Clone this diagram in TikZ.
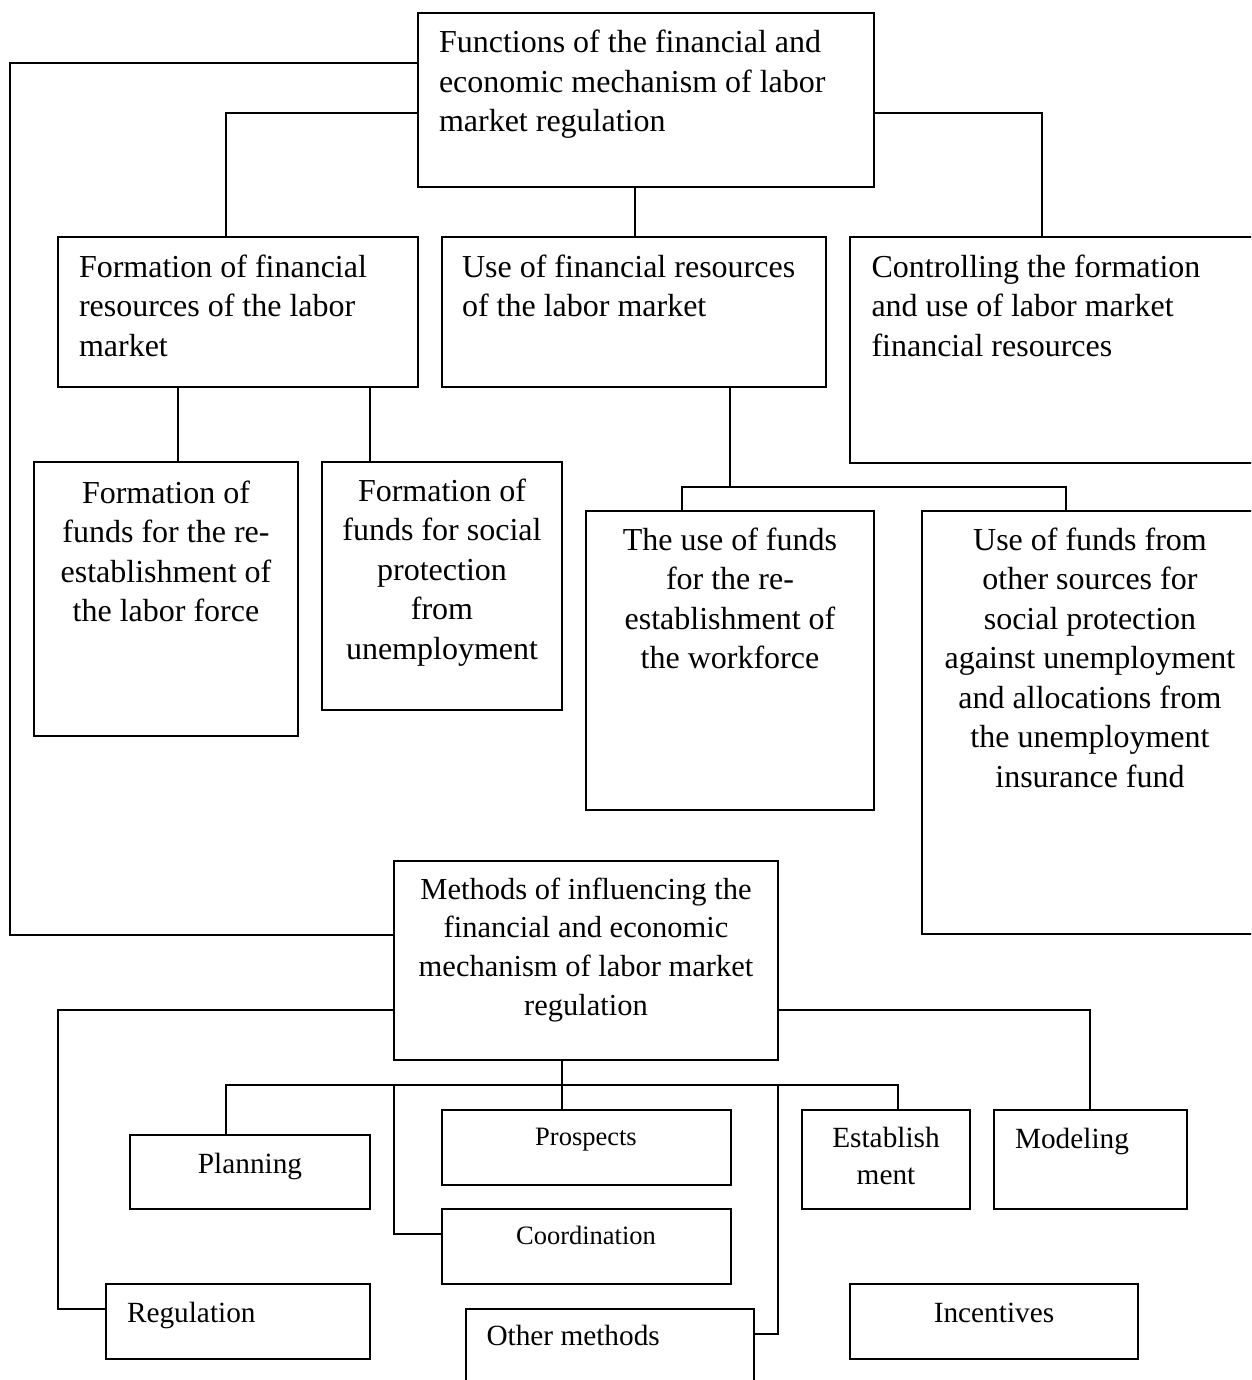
\documentclass[tikz,border=0pt]{standalone}
\usepackage{fontspec}
\setmainfont{Liberation Serif}
\newcommand\fA{\fontsize{32}{39.5}\selectfont}
\newcommand\fM{\fontsize{30.5}{38.7}\selectfont}
\newcommand\fB{\fontsize{29.3}{36.5}\selectfont}
\newcommand\fC{\fontsize{26.5}{32}\selectfont}
\tikzset{
  box/.style={draw, line width=1.9pt, inner sep=0pt, outer sep=0pt, anchor=north west},
  conn/.style={line width=1.5pt},
  txt/.style={inner sep=0pt, outer sep=0pt},
}
\begin{document}
\begin{tikzpicture}[x=1pt,y=-1pt]
\useasboundingbox (0,0) rectangle (1251,1380);
\clip (0,0) rectangle (1251,1380);
\fill[white] (0,0) rectangle (1251,1380);
% boxes
\node[box, minimum width=456, minimum height=174] (F) at (418,13) {};
\node[box, minimum width=360, minimum height=150] (FR) at (58,237) {};
\node[box, minimum width=384, minimum height=150] (UR) at (442,237) {};
\node[box, minimum width=415, minimum height=226] (CT) at (850,237) {};
\node[box, minimum width=264, minimum height=274] (FF1) at (34,462) {};
\node[box, minimum width=240, minimum height=248] (FF2) at (322,462) {};
\node[box, minimum width=288, minimum height=299] (UF1) at (586,511) {};
\node[box, minimum width=343, minimum height=423] (UF2) at (922,511) {};
\node[box, minimum width=384, minimum height=199] (M) at (394,861) {};
\node[box, minimum width=240, minimum height=74] (Plan) at (130,1135) {};
\node[box, minimum width=289, minimum height=75] (Pros) at (442,1110) {};
\node[box, minimum width=289, minimum height=75] (Coord) at (442,1209) {};
\node[box, minimum width=264, minimum height=75] (Reg) at (106,1284) {};
\node[box, minimum width=288, minimum height=97] (Oth) at (466,1309) {};
\node[box, minimum width=168, minimum height=99] (Est) at (802,1110) {};
\node[box, minimum width=193, minimum height=99] (Mod) at (994,1110) {};
\node[box, minimum width=288, minimum height=75] (Inc) at (850,1284) {};
% texts
\node[txt, anchor=base west, text width=425, align=flush left, font=\fA] (tF) at (439,53)
  {Functions of the financial and\\economic mechanism of labor\\market regulation};
\node[txt, anchor=base west, text width=335, align=flush left, font=\fA] (tFR) at (79,277)
  {Formation of financial\\resources of the labor\\market};
\node[txt, anchor=base west, text width=360, align=flush left, font=\fA] (tUR) at (462,277)
  {Use of financial resources\\of the labor market};
\node[txt, anchor=base west, text width=375, align=flush left, font=\fA] (tCT) at (871.5,277)
  {Controlling the formation\\and use of labor market\\financial resources};
\node[txt, anchor=base, text width=260, align=flush center, font=\fA] (tFF1) at (166,503)
  {Formation of\\funds for the re-\\establishment of\\the labor force};
\node[txt, anchor=base, text width=238, align=flush center, font=\fA] (tFF2) at (442,501)
  {Formation of\\funds for social\\protection\\from\\unemployment};
\node[txt, anchor=base, text width=285, align=flush center, font=\fA] (tUF1) at (730,550)
  {The use of funds\\for the re-\\establishment of\\the workforce};
\node[txt, anchor=base, text width=325, align=flush center, font=\fA] (tUF2) at (1090,550)
  {Use of funds from\\other sources for\\social protection\\against unemployment\\and allocations from\\the unemployment\\insurance fund};
\node[txt, anchor=base, text width=380, align=flush center, font=\fM] (tM) at (586,899)
  {Methods of influencing the\\financial and economic\\mechanism of labor market\\regulation};
\node[txt, anchor=base, font=\fB] (tPlan) at (250,1173) {Planning};
\node[txt, anchor=base, font=\fC] (tPros) at (586,1145) {Prospects};
\node[txt, anchor=base, font=\fC] (tCoord) at (586,1244) {Coordination};
\node[txt, anchor=base west, font=\fB] (tReg) at (127,1322) {Regulation};
\node[txt, anchor=base west, font=\fB] (tOth) at (486.5,1345) {Other methods};
\node[txt, anchor=base, text width=165, align=flush center, font=\fB] (tEst) at (886,1147.5) {Establish\\ment};
\node[txt, anchor=base west, font=\fB] (tMod) at (1015,1148) {Modeling};
\node[txt, anchor=base, font=\fB] (tInc) at (994,1322) {Incentives};
% connectors
\coordinate (ub) at (730,487);
\coordinate (bus) at (562,1085);
\draw[conn] (F.west |- 0,63) -| (10,935) -- (M.west |- 0,935);
\draw[conn] (F.west |- 0,113) -| (FR.north -| 226,0);
\draw[conn] (F.south -| 635,0) -- (UR.north -| 635,0);
\draw[conn] (F.east |- 0,113) -| (CT.north -| 1042,0);
\draw[conn] (FR.south -| 178,0) -- (FF1.north -| 178,0);
\draw[conn] (FR.south -| 370,0) -- (FF2.north -| 370,0);
\draw[conn] (UR.south -| ub) -- (ub);
\draw[conn] (UF1.north -| 682,0) |- (ub) -| (UF2.north -| 1066,0);
\draw[conn] (M.west |- 0,1010) -| (58,1309) -- (Reg.west |- 0,1309);
\draw[conn] (M.east |- 0,1010) -| (Mod.north -| 1090,0);
\draw[conn] (M.south -| bus) -- (bus);
\draw[conn] (Plan.north -| 226,0) -- (226,1085) -- (898,1085) -- (Est.north -| 898,0);
\draw[conn] (bus) -- (Pros.north -| bus);
\draw[conn] (394,1085) |- (Coord.west |- 0,1234);
\draw[conn] (778,1085) |- (Oth.east |- 0,1334);
\end{tikzpicture}
\end{document}
